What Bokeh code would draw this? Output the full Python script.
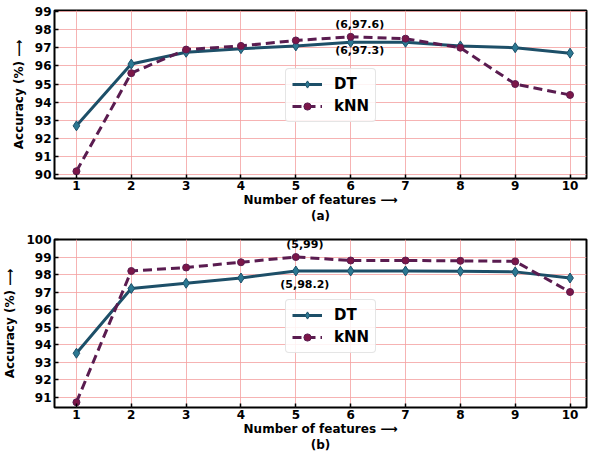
from bokeh.plotting import figure
from bokeh.layouts import column
from bokeh.models import Label, Legend, LegendItem, Range1d, FixedTicker
from bokeh.embed import file_html
from bokeh.resources import INLINE

features = [1, 2, 3, 4, 5, 6, 7, 8, 9, 10]
dt_a = [92.7, 96.1, 96.75, 96.95, 97.1, 97.3, 97.3, 97.1, 97.0, 96.7]
knn_a = [90.2, 95.6, 96.9, 97.1, 97.4, 97.6, 97.5, 97.0, 95.0, 94.4]
dt_b = [93.5, 97.2, 97.5, 97.8, 98.2, 98.2, 98.2, 98.18, 98.15, 97.8]
knn_b = [90.7, 98.2, 98.4, 98.7, 99.0, 98.8, 98.8, 98.78, 98.75, 97.0]
yticks_a = [90, 91, 92, 93, 94, 95, 96, 97, 98, 99]
yticks_b = [91, 92, 93, 94, 95, 96, 97, 98, 99, 100]
ann_a = [(6, 97.6, "(6,97.6)"), (6, 97.3, "(6,97.3)")]
ann_b = [(5, 99.0, "(5,99)"), (5, 98.2, "(5,98.2)")]

FONT = "DejaVu Sans"
DT_LINE = "#1d4f68"
DT_FILL = "#2c7892"
KNN_LINE = "#5a1c50"
KNN_FILL = "#7c1648"


def make(dt, knn, yticks, yr, anns, sub, h, top, bottom, legend_y, offs):
    p = figure(width=588, height=h, output_backend="svg", toolbar_location=None,
               x_range=Range1d(0.6, 10.3), y_range=Range1d(*yr),
               min_border_left=40, min_border_right=2, min_border_top=top,
               min_border_bottom=bottom)
    p.outline_line_color = "black"
    p.outline_line_width = 2
    for ax in (p.xaxis[0], p.yaxis[0]):
        ax.axis_line_color = None
        ax.major_tick_in = 4
        ax.major_tick_out = 0
        ax.major_tick_line_color = "black"
        ax.major_tick_line_width = 1.5
        ax.minor_tick_line_color = None
        ax.major_label_text_font = FONT
        ax.major_label_text_font_style = "bold"
        ax.major_label_text_font_size = "12px"
        ax.major_label_text_color = "black"
        ax.axis_label_text_font = FONT
        ax.axis_label_text_font_style = "bold"
        ax.axis_label_text_font_size = "12px"
        ax.axis_label_text_color = "black"
    p.xaxis.ticker = FixedTicker(ticks=features)
    p.yaxis.ticker = FixedTicker(ticks=yticks)
    p.xaxis.major_label_standoff = 2
    p.yaxis.major_label_standoff = 3
    p.xaxis.axis_label = "Number of features \u27f6\n" + sub
    p.yaxis.axis_label = "Accuracy (%) \u27f6"
    p.xaxis.axis_label_standoff = 0
    p.yaxis.axis_label_standoff = 6
    p.grid.grid_line_color = "#f4a0a0"
    p.grid.grid_line_alpha = 0.8
    p.grid.grid_line_width = 1

    l1 = p.line(features, dt, line_color=DT_LINE, line_width=3)
    m1 = p.scatter(features, dt, marker="diamond", size=10, fill_color=DT_FILL,
                   line_color=DT_LINE, line_width=1)
    l2 = p.line(features, knn, line_color=KNN_LINE, line_width=3, line_dash="9 5")
    m2 = p.scatter(features, knn, marker="circle", size=7, fill_color=KNN_FILL,
                   line_color=KNN_LINE, line_width=1)

    for (x, y, t), off in zip(anns, offs):
        p.add_layout(Label(x=x, y=y, text=t, x_offset=9, y_offset=off,
                           text_align="center",
                           text_baseline=("bottom" if off > 0 else "top"),
                           text_font=FONT, text_font_style="bold",
                           text_font_size="11px", text_color="black"))

    leg = Legend(items=[LegendItem(label="DT", renderers=[l1, m1]),
                        LegendItem(label="kNN", renderers=[l2, m2])],
                 location=(231, legend_y))
    leg.margin = 0
    leg.label_text_font = FONT
    leg.label_text_font_style = "bold"
    leg.label_text_font_size = "15px"
    leg.label_text_color = "black"
    leg.border_line_color = "#cccccc"
    leg.border_line_width = 1
    leg.border_radius = 4
    leg.background_fill_alpha = 0.85
    leg.glyph_width = 30
    leg.glyph_height = 18
    leg.label_standoff = 12
    leg.padding = 6
    leg.spacing = 4
    p.add_layout(leg, "center")
    return p


p1 = make(dt_a, knn_a, yticks_a, (89.8, 99.05), ann_a, "(a)", 226, 10, 44, 56, (6, -2))
p2 = make(dt_b, knn_b, yticks_b, (90.4, 100.0), ann_b, "(b)", 229, 13, 44, 54, (6, -7))
layout = column(p1, p2, spacing=0)

open("out.html", "w").write(file_html(layout, INLINE))
